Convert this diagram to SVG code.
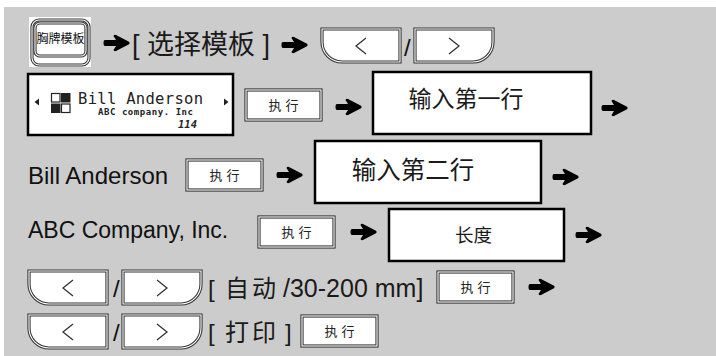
<svg xmlns="http://www.w3.org/2000/svg" width="716" height="356" viewBox="0 0 716 356">
<defs>
<style>
.bg{fill:#cccccc}
.cj{font-family:"Liberation Sans","Noto Sans CJK SC",sans-serif;fill:#1a1a1a}
.lat{font-family:"Liberation Sans","Noto Sans CJK SC",sans-serif;fill:#111}
.box{fill:#fff;stroke:#000;stroke-width:2.5}
.k1{fill:#fff;stroke:#333;stroke-width:3.2}
.k2{fill:none;stroke:#fff;stroke-width:1.1}
.chev{fill:none;stroke:#333;stroke-width:1.3}
.exe{font-family:"Noto Sans CJK SC",sans-serif;font-size:13px;fill:#222;letter-spacing:4px}
.mono{font-family:"DejaVu Sans Mono","Liberation Mono",monospace;fill:#222}
</style>
<path id="arr" d="M1,-3 L12,-3 L9.5,-7 Q10,-8.6 12,-8 L25,-1.3 Q26.5,0 25,1.3 L12,8 Q10,8.6 9.5,7 L12,3 L1,3 Q-0.5,3 -0.5,0 Q-0.5,-3 1,-3 Z" fill="#000"/>
<g id="lbtn">
<path class="k1" d="M0,0 H78 V33 H20 A20 20 0 0 1 0,13 Z"/>
<path class="k2" d="M0,0 H78 V33 H20 A20 20 0 0 1 0,13 Z"/>
<polyline class="chev" points="44,9 34,17 44,25"/>
</g>
<g id="rbtn">
<path class="k1" d="M0,0 H78 V13 A20 20 0 0 1 58,33 H0 Z"/>
<path class="k2" d="M0,0 H78 V13 A20 20 0 0 1 58,33 H0 Z"/>
<polyline class="chev" points="34,9 44,17 34,25"/>
</g>
<g id="exec">
<rect class="k1" x="0" y="0" width="75" height="30"/>
<rect class="k2" x="0" y="0" width="75" height="30"/>
<text class="exe" x="39.5" y="20" text-anchor="middle">执行</text>
</g>
</defs>

<rect class="bg" x="4" y="7" width="712" height="349"/>

<g id="row1">
<g id="menu-key">
<rect x="29" y="17" width="62" height="50" fill="#fff"/>
<rect class="k1" x="32" y="20" width="57" height="45" rx="7"/>
<rect class="k2" x="32" y="20" width="57" height="45" rx="7"/>
<rect class="k1" x="35" y="23" width="51" height="33" rx="5"/>
<rect class="k2" x="35" y="23" width="51" height="33" rx="5"/>
<text x="60.5" y="43" text-anchor="middle" font-family="Noto Sans CJK SC,sans-serif" font-size="12" fill="#111">胸牌模板</text>
</g>
<text id="select-template" class="cj" x="132" y="54" font-size="27">[ 选择模板 ]</text>
<g id="nav-left-1"><use href="#lbtn" x="322" y="29"/></g>
<text class="lat" x="404" y="56" font-size="24">/</text>
<g id="nav-right-1"><use href="#rbtn" x="415" y="29"/></g>
</g>

<g id="display">
<rect class="box" x="28" y="74" width="205" height="61"/>
<polygon points="34.5,102 39,98.5 39,105.5" fill="#222"/>
<polygon points="228.5,102 224,98.5 224,105.5" fill="#222"/>
<rect x="51.5" y="93.5" width="8.5" height="8.5" fill="none" stroke="#222" stroke-width="1.2"/>
<rect x="61" y="93" width="9.5" height="9.5" fill="#222"/>
<rect x="51" y="103.5" width="9.5" height="9.5" fill="#222"/>
<rect x="61.5" y="104" width="8.5" height="8.5" fill="none" stroke="#222" stroke-width="1.2"/>
<text class="mono" x="78" y="104" font-size="15.5" textLength="125">Bill Anderson</text>
<text class="mono" x="98" y="115" font-size="9" font-weight="bold" textLength="95">ABC company. Inc</text>
<text class="mono" x="178" y="128" font-size="10.5" font-style="italic" font-weight="bold">114</text>
</g>
<g id="exec-1"><use href="#exec" x="246" y="90"/></g>
<g id="box-line1">
<rect class="box" x="373" y="72" width="218" height="62"/>
<text class="cj" x="466" y="107" font-size="23" text-anchor="middle">输入第一行</text>
</g>

<text id="bill" class="lat" x="28" y="184" font-size="24">Bill Anderson</text>
<g id="exec-2"><use href="#exec" x="187" y="160"/></g>
<g id="box-line2">
<rect class="box" x="315" y="141" width="226" height="62"/>
<text class="cj" x="413" y="179" font-size="24.5" text-anchor="middle">输入第二行</text>
</g>

<text id="abc" class="lat" x="28" y="238" font-size="23">ABC Company, Inc.</text>
<g id="exec-3"><use href="#exec" x="259" y="217"/></g>
<g id="box-length">
<rect class="box" x="389" y="209" width="175" height="52"/>
<text class="cj" x="473.5" y="242" font-size="18.5" text-anchor="middle">长度</text>
</g>

<g id="row5">
<g id="nav-left-2"><use href="#lbtn" x="29" y="271"/></g>
<text class="lat" x="113" y="297" font-size="24">/</text>
<g id="nav-right-2"><use href="#rbtn" x="123" y="271"/></g>
<text class="cj" y="297" font-size="24"><tspan x="208">[</tspan><tspan x="225" letter-spacing="3">自动</tspan><tspan x="283" font-size="25">/30-200 mm]</tspan></text>
<g id="exec-4"><use href="#exec" x="438" y="272"/></g>
</g>

<g id="row6">
<g id="nav-left-3"><use href="#lbtn" x="29" y="315"/></g>
<text class="lat" x="113" y="341" font-size="24">/</text>
<g id="nav-right-3"><use href="#rbtn" x="123" y="315"/></g>
<text class="cj" y="341" font-size="24"><tspan x="208">[</tspan><tspan x="225" letter-spacing="3">打印</tspan><tspan x="285">]</tspan></text>
<g id="exec-5"><use href="#exec" x="302" y="316"/></g>
</g>

<g id="connectors">
<use href="#arr" x="104" y="43"/>
<use href="#arr" x="282" y="45"/>
<use href="#arr" x="336" y="107"/>
<use href="#arr" x="602" y="108"/>
<use href="#arr" x="277" y="175"/>
<use href="#arr" x="553" y="177"/>
<use href="#arr" x="351" y="232"/>
<use href="#arr" x="576" y="235"/>
<use href="#arr" x="529" y="287"/>
</g>
</svg>
